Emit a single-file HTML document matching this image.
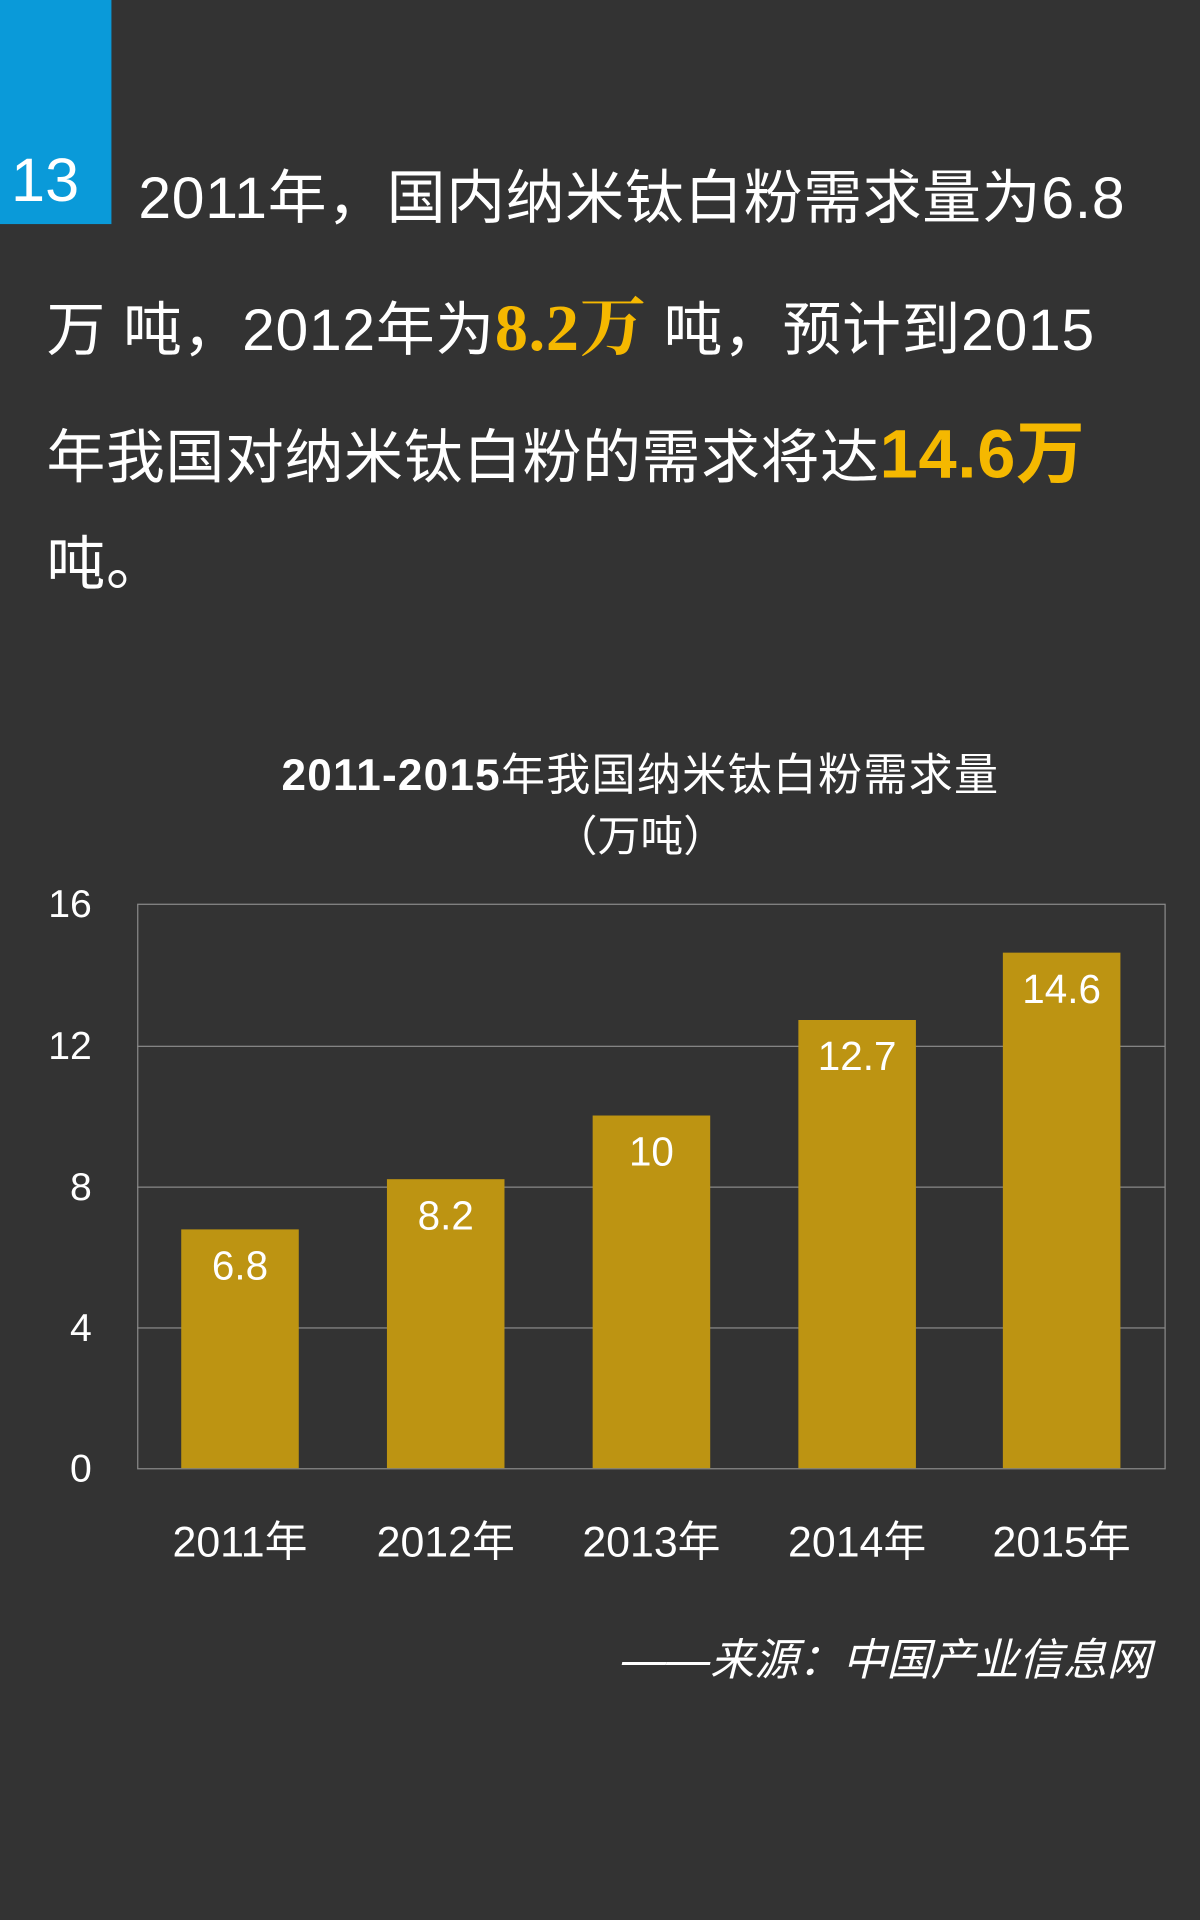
<!DOCTYPE html>
<html><head><meta charset="utf-8"><style>
html,body{margin:0;padding:0;background:#333333;}
#wrap{width:980px;height:1568px;position:relative;transform:scale(1.22449);transform-origin:0 0;background:#333333;overflow:hidden;font-family:"Liberation Sans","Noto Sans CJK SC",sans-serif;color:#fff;}
.abs{position:absolute;white-space:nowrap;}
.t{font-size:48px;line-height:1;letter-spacing:0.6px;}
.g{color:#f5b800;font-weight:bold;}
.yl{position:absolute;right:905px;font-size:32px;width:60px;text-align:right;}
.bar{position:absolute;width:96px;background:#bd9412;}
.bl{position:absolute;width:96px;text-align:center;font-size:33px;color:#fff;}
.xl{position:absolute;width:168px;text-align:center;font-size:35px;top:1231px;}
.grid{position:absolute;left:112px;width:839px;height:1px;background:#8a8a8a;}
</style></head><body><div id="wrap">
<div class="abs" style="left:0;top:0;width:91px;height:183px;background:#0a9ad9;"></div>
<div class="abs" style="left:9px;top:118px;font-size:50px;">13</div>
<div class="abs t" style="left:113px;top:139px;">2011年，国内纳米钛白粉需求量为6.8</div>
<div class="abs t" style="left:38px;top:241px;">万 吨，2012年为<span class="g" style="font-family:'Liberation Serif','Noto Serif CJK SC',serif;font-size:54px;">8.2万</span> 吨，预计到2015</div>
<div class="abs t" style="left:38px;top:343px;">年我国对纳米钛白粉的需求将达<span class="g" style="font-size:56px;">14.6万</span></div>
<div class="abs t" style="left:38px;top:438px;">吨。</div>
<div class="abs" style="left:0;width:1046px;text-align:center;top:604px;font-size:36px;font-weight:bold;letter-spacing:1px;">2011-2015<span style="font-weight:normal">年我国纳米钛白粉需求量</span></div>
<div class="abs" style="left:0;width:1046px;text-align:center;top:655px;font-size:35px;">（万吨）</div>
<div class="abs" style="left:112px;top:738px;width:838px;height:460px;border:1px solid #8a8a8a;"></div>
<div class="grid" style="top:854px"></div>
<div class="grid" style="top:969px"></div>
<div class="grid" style="top:1084px"></div>
<div class="yl" style="top:720px">16</div>
<div class="yl" style="top:836px">12</div>
<div class="yl" style="top:951px">8</div>
<div class="yl" style="top:1066px">4</div>
<div class="yl" style="top:1181px">0</div>
<div class="bar" style="left:148px;top:1004px;height:195px"></div>
<div class="bar" style="left:316px;top:963px;height:236px"></div>
<div class="bar" style="left:484px;top:911px;height:288px"></div>
<div class="bar" style="left:652px;top:833px;height:366px"></div>
<div class="bar" style="left:819px;top:778px;height:421px"></div>
<div class="bl" style="left:148px;top:1015px">6.8</div>
<div class="bl" style="left:316px;top:974px">8.2</div>
<div class="bl" style="left:484px;top:922px">10</div>
<div class="bl" style="left:652px;top:844px">12.7</div>
<div class="bl" style="left:819px;top:789px">14.6</div>
<div class="xl" style="left:112px">2011年</div>
<div class="xl" style="left:280px">2012年</div>
<div class="xl" style="left:448px">2013年</div>
<div class="xl" style="left:616px">2014年</div>
<div class="xl" style="left:783px">2015年</div>
<div class="abs" style="right:40px;top:1327px;font-size:36px;font-style:italic;">——来源：中国产业信息网</div>
</div></body></html>
